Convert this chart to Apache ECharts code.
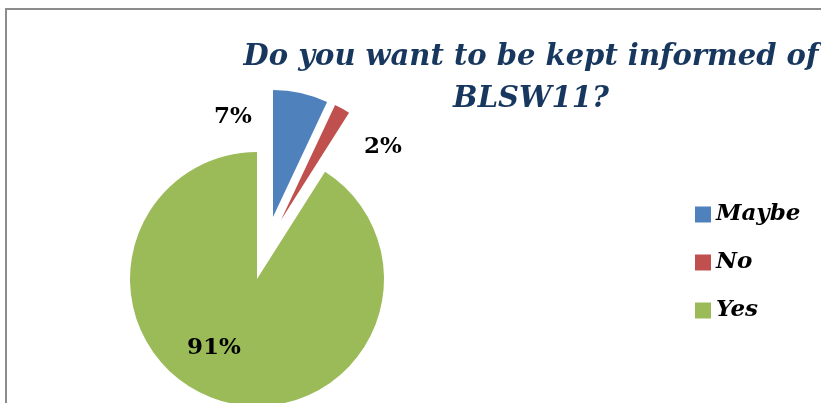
<!DOCTYPE html>
<html>
<head>
<meta charset="utf-8">
<script src="https://cdn.jsdelivr.net/npm/echarts@6/dist/echarts.min.js"></script>
<style>
  html, body { margin: 0; padding: 0; background: #fff; }
  #chart { width: 821px; height: 403px; }
</style>
</head>
<body>
<div id="chart"></div>
<script>
// Survey answers and their share of responses (%)
const categories = ['Maybe', 'No', 'Yes'];
const shares = [7, 2, 91];
const colors = ['#4F81BD', '#C0504D', '#9BBB59'];

// Each slice is drawn by its own pie series so it can be pulled out separately
const sliceCenters = [[273, 217], [281, 220], [257, 279]];
const labelSpots = [[233, 117], [383, 147], [214, 348]];
const radius = 127;

const serifFamily = '"DejaVu Serif", serif';

const series = categories.map((name, k) => ({
  type: 'pie',
  center: sliceCenters[k],
  radius: radius,
  startAngle: 90,
  clockwise: true,
  silent: true,
  animation: false,
  labelLine: { show: false },
  label: {
    show: true,
    position: 'inside',
    formatter: '{c}%',
    fontFamily: serifFamily,
    fontWeight: 'bold',
    fontSize: 23,
    color: '#000'
  },
  labelLayout: () => ({
    x: labelSpots[k][0],
    y: labelSpots[k][1],
    align: 'center',
    verticalAlign: 'middle'
  }),
  data: shares.map((v, i) => i === k
    ? { name: categories[i], value: v, itemStyle: { color: colors[i] } }
    : { name: 'gap-' + k + '-' + i, value: v, itemStyle: { color: 'rgba(0,0,0,0)' }, label: { show: false } })
}));

const chart = echarts.init(document.getElementById('chart'), null, { renderer: 'canvas' });
chart.setOption({
  backgroundColor: '#fff',
  color: colors,
  title: {
    text: 'Do you want to be kept informed of\nBLSW11?',
    left: 526,
    top: 31,
    textAlign: 'center',
    textStyle: {
      fontFamily: serifFamily,
      fontStyle: 'italic',
      fontWeight: 'bold',
      fontSize: 29,
      lineHeight: 42,
      color: '#17375E'
    }
  },
  legend: {
    data: categories,
    orient: 'vertical',
    left: 695,
    top: 203,
    padding: 0,
    itemWidth: 16,
    itemHeight: 16,
    itemGap: 25,
    icon: 'rect',
    selectedMode: false,
    textStyle: {
      fontFamily: serifFamily,
      fontStyle: 'italic',
      fontWeight: 'bold',
      fontSize: 23,
      color: '#000'
    }
  },
  graphic: [{
    type: 'rect',
    shape: { x: 6, y: 9, width: 900, height: 500 },
    style: { fill: 'none', stroke: '#8C8C8C', lineWidth: 2 },
    silent: true
  }],
  series: series
});
</script>
</body>
</html>
